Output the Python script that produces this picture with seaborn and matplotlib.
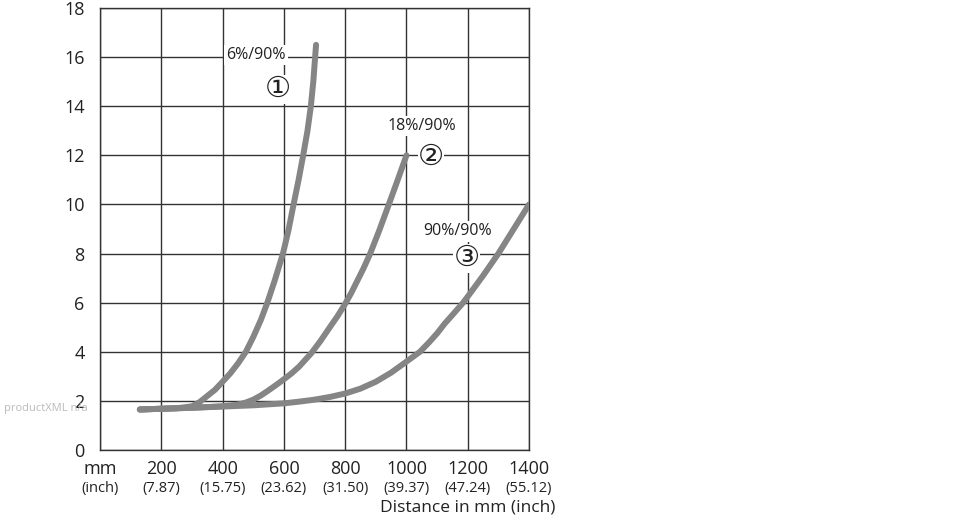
import pandas as pd
import matplotlib.pyplot as plt
import seaborn as sns

# Curves (distance in mm, value)
x_6 = [130, 200, 250, 300, 325, 350, 375, 400, 425, 450, 476, 500, 525, 546, 570,
       597, 615, 630, 648, 663, 677, 688, 696, 702, 705]
y_6 = [1.65, 1.68, 1.70, 1.78, 1.95, 2.2, 2.45, 2.78, 3.12, 3.52, 4.0, 4.6, 5.3, 6.0, 6.9,
       8.0, 8.95, 9.9, 11.0, 12.0, 13.0, 14.0, 15.0, 16.0, 16.5]

x_18 = [130, 200, 300, 400, 450, 475, 500, 525, 550, 575, 600, 625, 650, 690, 720,
        750, 775, 800, 820, 840, 860, 881, 910, 941, 970, 1000]
y_18 = [1.65, 1.68, 1.72, 1.78, 1.85, 1.93, 2.05, 2.22, 2.43, 2.65, 2.88, 3.12, 3.4, 3.95, 4.45,
        5.0, 5.45, 5.95, 6.4, 6.9, 7.4, 7.98, 8.9, 9.95, 10.95, 12.0]

x_90 = [130, 200, 300, 400, 500, 600, 650, 700, 750, 800, 850, 900, 950, 1000, 1044,
        1075, 1100, 1125, 1150, 1185, 1200, 1250, 1300, 1350, 1400]
y_90 = [1.65, 1.68, 1.72, 1.77, 1.82, 1.90, 1.97, 2.05, 2.16, 2.30, 2.5, 2.78, 3.15, 3.6, 4.0,
        4.4, 4.75, 5.15, 5.5, 6.0, 6.25, 7.1, 8.0, 9.0, 10.0]

curve_names = ['6%/90%', '18%/90%', '90%/90%']
curve_marks = ['\u2460', '\u2461', '\u2462']
label_pos = [(509, 16.1), (1050, 13.2), (1168, 8.9)]
mark_pos = [(581, 14.7), (1079, 11.9), (1196, 7.8)]

mm_ticks = [0, 200, 400, 600, 800, 1000, 1200, 1400]
mm_labels = ['mm', '200', '400', '600', '800', '1000', '1200', '1400']
inch_labels = ['(inch)', '(7.87)', '(15.75)', '(23.62)', '(31.50)', '(39.37)', '(47.24)', '(55.12)']
y_ticks = list(range(0, 19, 2))

frames = []
for name, xs, ys in zip(curve_names, [x_6, x_18, x_90], [y_6, y_18, y_90]):
    frames.append(pd.DataFrame({'Distance': xs, 'Value': ys, 'Curve': name}))
df = pd.concat(frames, ignore_index=True)

sns.set_style('white')
plt.rcParams['font.family'] = ['Open Sans', 'DejaVu Sans', 'Noto Sans CJK SC']

fig = plt.figure(figsize=(9.7, 5.2), dpi=100)
ax = fig.add_axes([0.1031, 0.1346, 0.4423, 0.85])

line_grey = '#858585'
sns.lineplot(data=df, x='Distance', y='Value', hue='Curve', units='Curve',
             estimator=None, sort=False, palette=[line_grey] * 3,
             linewidth=4.3, legend=False, ax=ax, zorder=3,
             solid_capstyle='round', solid_joinstyle='round')

ax.set_xlim(0, 1400)
ax.set_ylim(0, 18)
ax.set_xticks(mm_ticks)
ax.set_xticklabels(mm_labels, fontsize=13)
ax.set_yticks(y_ticks)
ax.set_yticklabels([str(v) for v in y_ticks], fontsize=13)
ax.tick_params(axis='both', length=0, colors='#222222')
ax.tick_params(axis='x', pad=7)
ax.tick_params(axis='y', pad=11)
ax.set_xlabel('')
ax.set_ylabel('')
ax.grid(True, color='#333333', linewidth=1.0)
for s in ax.spines.values():
    s.set_color('#333333')
    s.set_linewidth(1.0)

sec = ax.secondary_xaxis(-0.07)
sec.set_xticks(mm_ticks)
sec.set_xticklabels(inch_labels, fontsize=10.5, color='#222222')
sec.tick_params(length=0, pad=0)
sec.spines['bottom'].set_visible(False)

ax.text(1.0606, -0.131, 'Distance in mm (inch)', transform=ax.transAxes,
        ha='right', va='center', fontsize=12.5, color='#222222')

for name, mark, (lx, ly), (mx, my) in zip(curve_names, curve_marks, label_pos, mark_pos):
    ax.text(lx, ly, name, ha='center', va='center', fontsize=11.5, color='#222222',
            zorder=4, bbox=dict(facecolor='white', edgecolor='none', pad=1.5))
    ax.text(mx, my, mark, ha='center', va='center', fontsize=21, color='#222222',
            zorder=4, bbox=dict(facecolor='white', edgecolor='none', pad=0.0))

fig.text(0.004, (520 - 409) / 520, 'productXML n/a', ha='left', va='center',
         fontsize=8, color='#bbbbbb')

fig.savefig('out.png', dpi=100)
